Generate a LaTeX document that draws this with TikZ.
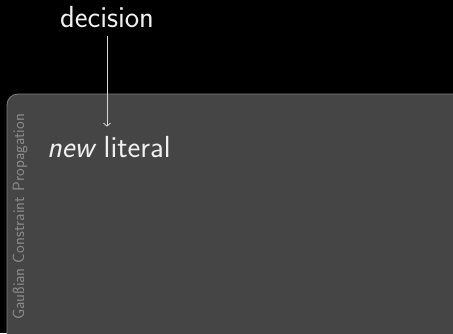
\documentclass[tikz,border=0pt]{standalone}
\usetikzlibrary{arrows.meta}
\definecolor{panelfill}{HTML}{454545}
\definecolor{panelline}{HTML}{808080}
\definecolor{sidetext}{HTML}{8C8C8C}
\definecolor{maintext}{HTML}{F0F0F0}
\begin{document}
\begin{tikzpicture}[x=1pt,y=1pt,font=\sffamily,
  bigtext/.style={text=maintext,font=\sffamily\fontsize{30.5}{36}\selectfont},
  flow/.style={draw=maintext!90!black,line width=0.8pt,-{Straight Barb[length=3pt,width=7pt]}}]
  % black background fixes the canvas
  \fill[black] (0,0) rectangle (453,-333);
  \useasboundingbox (0,0) rectangle (453,-333);
  % propagation panel, running off the right and bottom edges
  \begin{scope}
    \clip (0,0) rectangle (453,-333);
    \draw[fill=panelfill,draw=panelline,line width=0.8pt,rounded corners=11pt]
      (7,-94) rectangle (475,-360);
  \end{scope}
  \node[rotate=90,anchor=base west,inner sep=0pt,text=sidetext,
        font=\sffamily\fontsize{16.3}{19}\selectfont] (side) at (24,-320)
        {Gaußian Constraint Propagation};
  \node[bigtext,anchor=base,inner xsep=0pt,inner ysep=9pt] (decision) at (107,-27) {decision};
  \node[bigtext,anchor=base west,inner xsep=0pt,inner ysep=9pt] (lit) at (47,-157) {\textit{new}\hspace{-0.08em} literal};
  \draw[flow] (decision.south) -- (decision.south |- lit.north);
\end{tikzpicture}
\end{document}
